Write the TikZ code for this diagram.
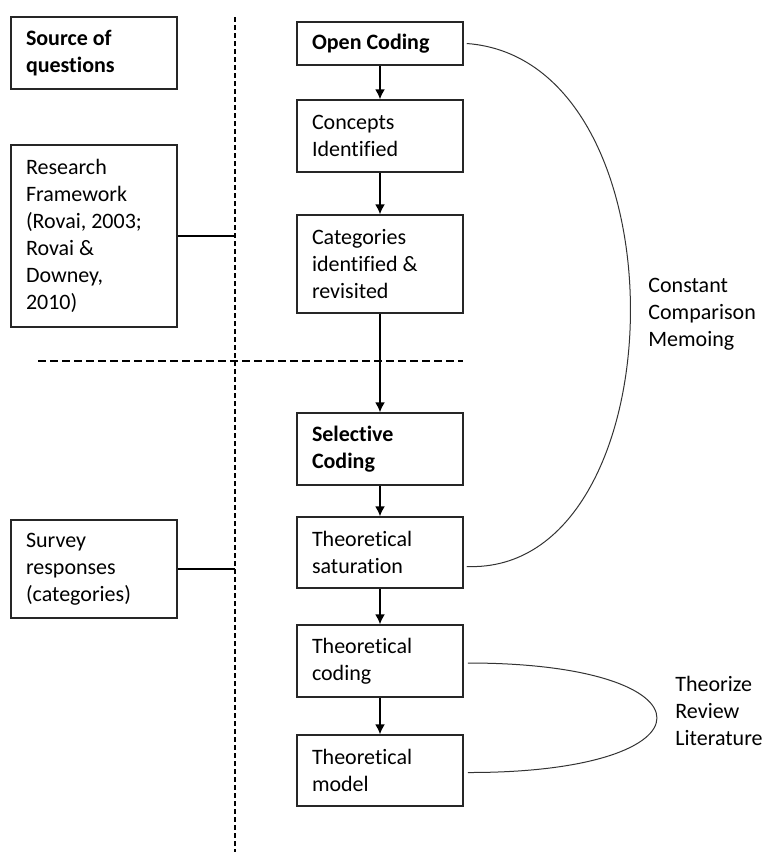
\documentclass[tikz,border=0pt]{standalone}
\usepackage{fontspec}
\setmainfont{Carlito}[Ligatures={NoCommon}]
\usetikzlibrary{arrows.meta}

\begin{document}
\begin{tikzpicture}[x=0.5pt,y=-0.5pt,
            box/.style={draw=black!85, line width=0.75pt, rectangle, align=flush left,
            text width=68pt, inner xsep=7.5pt, inner ysep=2pt,
            font=\fontsize{11}{13.5}\selectfont},
            note/.style={align=flush left, inner sep=0pt, anchor=west,
            font=\fontsize{11}{13.5}\selectfont},
            flow/.style={line width=0.75pt, -{Latex[length=5pt,width=5pt]}},
            loop/.style={line width=0.5pt, black!80}]
        \useasboundingbox (0,0) rectangle (769,852);
        % left column
        \node[box, minimum height=36pt] (source) at (94,53) {\textbf{Source of}\\\textbf{questions}};
        \node[box, minimum height=91pt] (framework) at (94,236) {Research\\Framework\\(Rovai, 2003;\\Rovai \&\\Downey,\\2010)};
        \node[box, minimum height=49pt] (survey) at (94,569) {Survey\\responses\\(categories)};
        % right column
        \node[box, minimum height=21.5pt] (open) at (380,43.5) {\textbf{Open Coding}};
        \node[box, minimum height=36pt] (concepts) at (380,136) {Concepts\\Identified};
        \node[box, minimum height=49pt] (categories) at (380,264) {Categories\\identified \&\\revisited};
        \node[box, minimum height=36pt] (selective) at (380,449) {\textbf{Selective}\\\textbf{Coding}};
        \node[box, minimum height=35.5pt] (saturation) at (380,552.5) {Theoretical\\saturation};
        \node[box, minimum height=36pt] (thcoding) at (380,661) {Theoretical\\coding};
        \node[box, minimum height=35.5pt] (thmodel) at (380,770.5) {Theoretical\\model};
        \node[note] (constant) at (648,314) {Constant\\Comparison\\Memoing};
        \node[note] (theorize) at (675,711) {Theorize\\Review\\Literature};
        % dividers
        \coordinate (vtop) at (235,17);
        \coordinate (vbot) at (235,852);
        \coordinate (hleft) at (38,361);
        \coordinate (hright) at (463,361);
        \draw[line width=0.6pt, dash pattern=on 2.5pt off 1.5pt] (vtop) -- (vbot);
        \draw[line width=0.6pt, dash pattern=on 4pt off 2pt] (hleft) -- (hright);

        \draw[line width=0.75pt] (framework.east) -- (framework.east -| vtop);
        \draw[line width=0.75pt] (survey.east) -- (survey.east -| vtop);
        \draw[flow] (open) -- (concepts);
        \draw[flow] (concepts) -- (categories);
        \draw[flow] (categories) -- (selective);
        \draw[flow] (selective) -- (saturation);
        \draw[flow] (saturation) -- (thcoding);
        \draw[flow] (thcoding) -- (thmodel);
        \draw[loop] ([xshift=1.5pt]open.east) .. controls (690,60) and (680,575) .. ([xshift=1.5pt,yshift=-7pt]saturation.east);
        \draw[loop] ([xshift=2pt,yshift=-1pt]thcoding.east) .. controls (720,663) and (720,773) .. ([xshift=2pt,yshift=-1pt]thmodel.east);
    \end{tikzpicture}
\end{document}
